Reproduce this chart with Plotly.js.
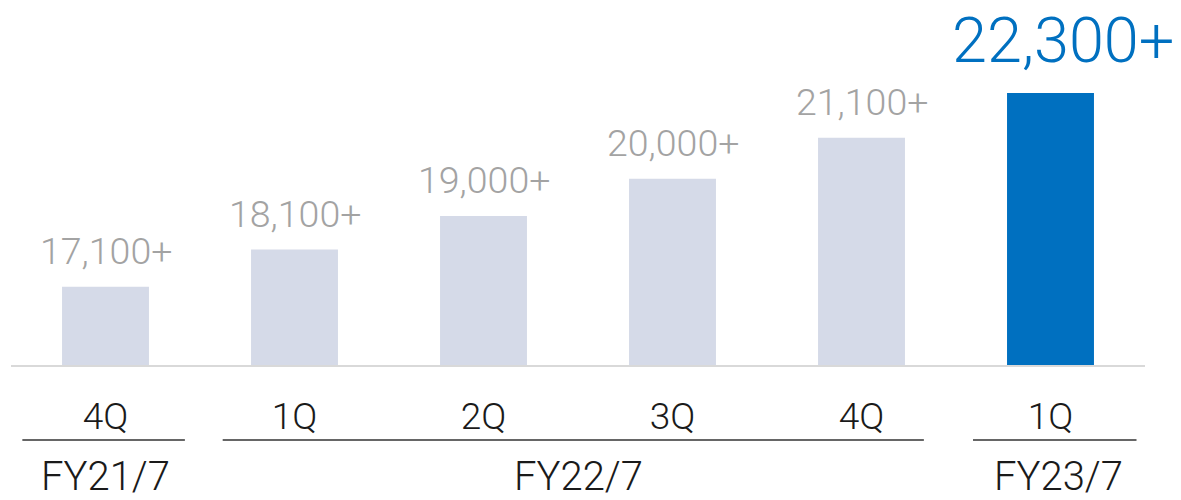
<!DOCTYPE html>
<html>
<head>
<meta charset="utf-8">
<script src="https://cdn.plot.ly/plotly-3.0.1.min.js"></script>
<style>html,body{margin:0;padding:0;background:#fff;}#chart{width:1181px;height:500px;}</style>
</head>
<body>
<div id="chart"></div>
<script>
// ---- data ----
const quarters = ["4Q", "1Q", "2Q", "3Q", "4Q", "1Q"];
const values = [17100, 18100, 19000, 20000, 21100, 22300];
const fiscalYears = ["FY21/7", "FY22/7", "FY23/7"];
const groupStart = [0, 1, 5];
const groupEnd = [0, 4, 5];

// ---- styling ----
const FONT = "Roboto, 'Liberation Sans', Arial, sans-serif";
const GRAY_BAR = "#d5dae8";
const BLUE = "#0070c0";
const padL = [0.44, 0.38, 0.41];
const padR = [0.42, 0.33, 0.455];
const fyShift = [0, 0, 8];
const idx = quarters.map((_, i) => i);
const last = values.length - 1;
const colors = values.map((_, i) => i === last ? BLUE : GRAY_BAR);

const plotH = 365; // px, plot area height (t=0)
const py = px => (plotH - px) / plotH; // pixel y -> paper y

const annotations = [];
values.forEach((v, i) => {
  const big = i === last;
  annotations.push({
    x: i, y: v, xref: "x", yref: "y",
    text: v.toLocaleString("en-US") + "+",
    showarrow: false, yanchor: "bottom", yshift: big ? 14 : 12, xshift: big ? 12 : 0,
    font: {family: FONT, size: big ? 63 : 37.5, color: big ? BLUE : "#a3a3a3", weight: 300}
  });
});
fiscalYears.forEach((fy, g) => {
  annotations.push({
    x: (groupStart[g] + groupEnd[g]) / 2, y: py(476), xref: "x", yref: "paper",
    xshift: fyShift[g],
    text: fy, showarrow: false, yanchor: "middle",
    font: {family: FONT, size: 40, color: "#1a1a1a", weight: 300}
  });
});
const shapes = fiscalYears.map((fy, g) => ({
  type: "line", xref: "x", yref: "paper",
  x0: groupStart[g] - padL[g], x1: groupEnd[g] + padR[g],
  y0: py(440), y1: py(440),
  line: {color: "#333333", width: 1.5}
}));

const trace = {
  type: "bar", x: idx, y: values,
  marker: {color: colors, line: {width: 0}},
  width: 0.46, hoverinfo: "skip"
};

const layout = {
  width: 1181, height: 500,
  margin: {l: 11, r: 36, t: 0, b: 135, pad: 0},
  paper_bgcolor: "#fff", plot_bgcolor: "#fff",
  showlegend: false,
  xaxis: {
    range: [-0.5, 5.5], tickmode: "array", tickvals: idx, ticktext: quarters,
    showgrid: false, zeroline: false, showline: true, linecolor: "#d9d9d9", linewidth: 2,
    ticks: "", ticklabelstandoff: 18,
    tickfont: {family: FONT, size: 37, color: "#1a1a1a", weight: 300}
  },
  yaxis: {range: [15000, 24800], visible: false, showgrid: false, zeroline: false},
  annotations: annotations,
  shapes: shapes
};

Plotly.newPlot("chart", [trace], layout, {staticPlot: true, displayModeBar: false});
</script>
</body>
</html>
